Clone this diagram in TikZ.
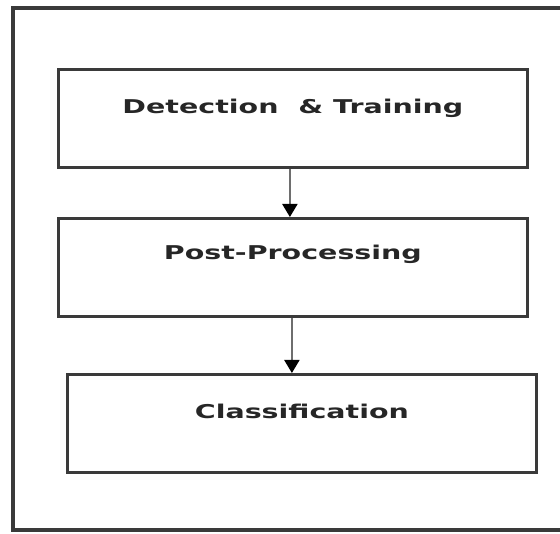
\documentclass[tikz,border=0pt]{standalone}
\usepackage{fontspec}
\setmainfont{DejaVu Sans}
\usetikzlibrary{arrows.meta}
\definecolor{framegray}{HTML}{3A3A3A}
\definecolor{linkgray}{HTML}{6E6E6E}
\tikzset{
  stage/.style={draw=framegray, line width=2.8pt, fill=white, inner sep=0pt,
    minimum width=469pt, minimum height=98pt, anchor=north west},
  stagetext/.style={font=\bfseries\fontsize{19}{22}\selectfont, text=black!85,
    inner sep=0pt, xscale=1.5},
  flow/.style={draw=linkgray, line width=2.2pt,
    -{Triangle[length=13pt,width=15pt,fill=black,color=black]}}
}
\begin{document}
\begin{tikzpicture}[x=1pt, y=-1pt]
  \useasboundingbox (0,0) rectangle (560,534);
  \fill[white] (0,0) rectangle (560,534);
  % outer frame, open past the right edge
  \draw[framegray, line width=3.2pt] (575,8) -- (13,8) -- (13,530) -- (575,530);
  % stage boxes
  \node[stage] (det) at (57,68) {};
  \node[stage] (post) at (57,217) {};
  \node[stage] (cls) at (66,373) {};
  % stage captions
  \node[stagetext] (detT) at ([yshift=-40pt]det.north) {Detection\ \ \& Training};
  \node[stagetext] (postT) at ([yshift=-37pt]post.north) {Post-Processing};
  \node[stagetext] (clsT) at ([yshift=-38pt]cls.north) {Classification};
  % connectors
  \draw[flow] ([xshift=-3pt]det.south) -- ([xshift=-3pt]det.south |- post.north);
  \draw[flow] ([xshift=-1pt]post.south) -- ([xshift=-1pt]post.south |- cls.north);
\end{tikzpicture}
\end{document}
